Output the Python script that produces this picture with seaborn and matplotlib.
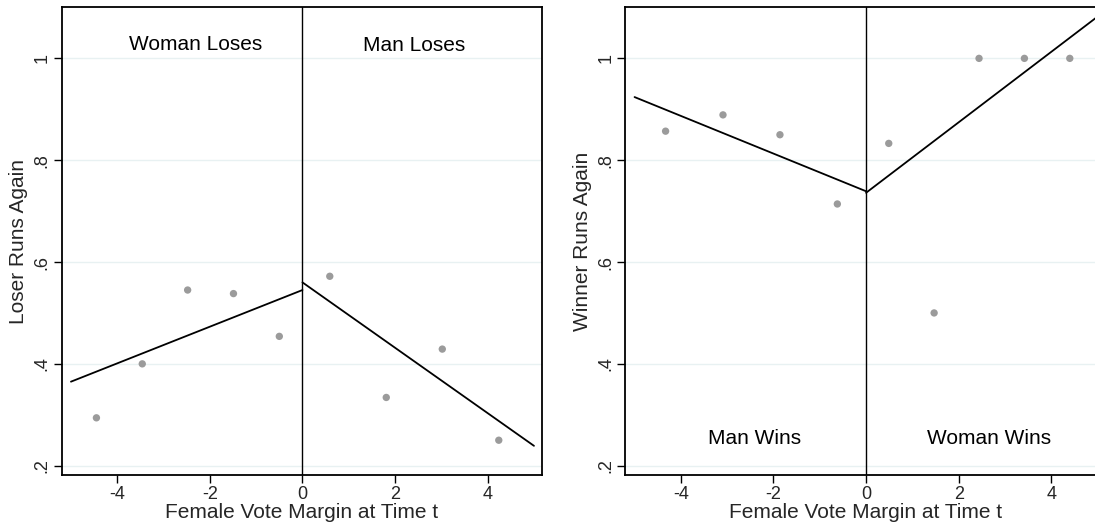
import matplotlib
matplotlib.use("Agg")
import matplotlib.pyplot as plt
import seaborn as sns
import pandas as pd

# ---- data ----
# Left panel: loser runs again
loser_x = [-4.45, -3.46, -2.48, -1.49, -0.50, 0.59, 1.81, 3.02, 4.24]
loser_y = [0.294, 0.400, 0.545, 0.538, 0.454, 0.572, 0.334, 0.429, 0.250]
loser_fit_neg_x = [-5.0, 0.0]
loser_fit_neg_y = [0.365, 0.545]
loser_fit_pos_x = [0.0, 5.0]
loser_fit_pos_y = [0.560, 0.239]

# Right panel: winner runs again
winner_x = [-4.33, -3.09, -1.86, -0.62, 0.49, 1.47, 2.44, 3.42, 4.40]
winner_y = [0.857, 0.889, 0.850, 0.714, 0.833, 0.500, 1.000, 1.000, 1.000]
winner_fit_neg_x = [-5.0, 0.0]
winner_fit_neg_y = [0.924, 0.739]
winner_fit_pos_x = [0.0, 5.0]
winner_fit_pos_y = [0.736, 1.082]

x_ticks = [-4, -2, 0, 2, 4]
x_tick_labels = ["-4", "-2", "0", "2", "4"]
y_ticks = [0.2, 0.4, 0.6, 0.8, 1.0]
y_tick_labels = [".2", ".4", ".6", ".8", "1"]

xlabel = "Female Vote Margin at Time t"
left_ylabel = "Loser Runs Again"
right_ylabel = "Winner Runs Again"
left_notes = [("Woman Loses", -2.3, 1.028), ("Man Loses", 2.42, 1.025)]
right_notes = [("Man Wins", -2.4, 0.254), ("Woman Wins", 2.65, 0.254)]

# ---- style ----
sns.set_theme(style="white")
plt.rcParams["font.family"] = ["Liberation Sans", "DejaVu Sans"]

fig = plt.figure(figsize=(10.95, 5.25), dpi=100)
ax_l = fig.add_axes([61.7 / 1095, 1 - 475 / 525, 480.6 / 1095, (475 - 7.3) / 525])
ax_r = fig.add_axes([625.3 / 1095, 1 - 475 / 525, 480.6 / 1095, (475 - 7.3) / 525])

grid_color = "#e8f1f2"
dot_color = "#9b9b9b"


def draw(ax, xs, ys, fnx, fny, fpx, fpy, ylabel, notes):
    ax.set_xlim(-5.2, 5.18)
    ax.set_ylim(0.1817, 1.1003)
    for yt in y_ticks:
        ax.axhline(yt, color=grid_color, lw=1.0, zorder=0)
    ax.axvline(0, color="black", lw=1.0, zorder=2)
    df = pd.DataFrame({"x": xs, "y": ys})
    sns.scatterplot(data=df, x="x", y="y", ax=ax, color=dot_color, s=28,
                    edgecolor="none", zorder=3)
    sns.lineplot(x=fnx, y=fny, ax=ax, color="black", lw=1.3, zorder=4)
    sns.lineplot(x=fpx, y=fpy, ax=ax, color="black", lw=1.3, zorder=4)
    ax.set_xticks(x_ticks)
    ax.set_xticklabels(x_tick_labels, fontsize=13)
    ax.set_yticks(y_ticks)
    ax.set_yticklabels(y_tick_labels, fontsize=13, rotation=90, va="center")
    ax.tick_params(axis="both", which="major", direction="out", length=6,
                   width=1.0, color="black", pad=2, bottom=True, left=True)
    ax.set_xlabel(xlabel, fontsize=15, labelpad=0)
    ax.set_ylabel(ylabel, fontsize=15, labelpad=4)
    for sp in ax.spines.values():
        sp.set_color("black")
        sp.set_linewidth(1.3)
    for txt, tx, ty in notes:
        ax.text(tx, ty, txt, fontsize=15, ha="center", va="center", color="black")
    ax.grid(False)


draw(ax_l, loser_x, loser_y, loser_fit_neg_x, loser_fit_neg_y,
     loser_fit_pos_x, loser_fit_pos_y, left_ylabel, left_notes)
draw(ax_r, winner_x, winner_y, winner_fit_neg_x, winner_fit_neg_y,
     winner_fit_pos_x, winner_fit_pos_y, right_ylabel, right_notes)

fig.savefig("out.png", dpi=100, facecolor="white")
